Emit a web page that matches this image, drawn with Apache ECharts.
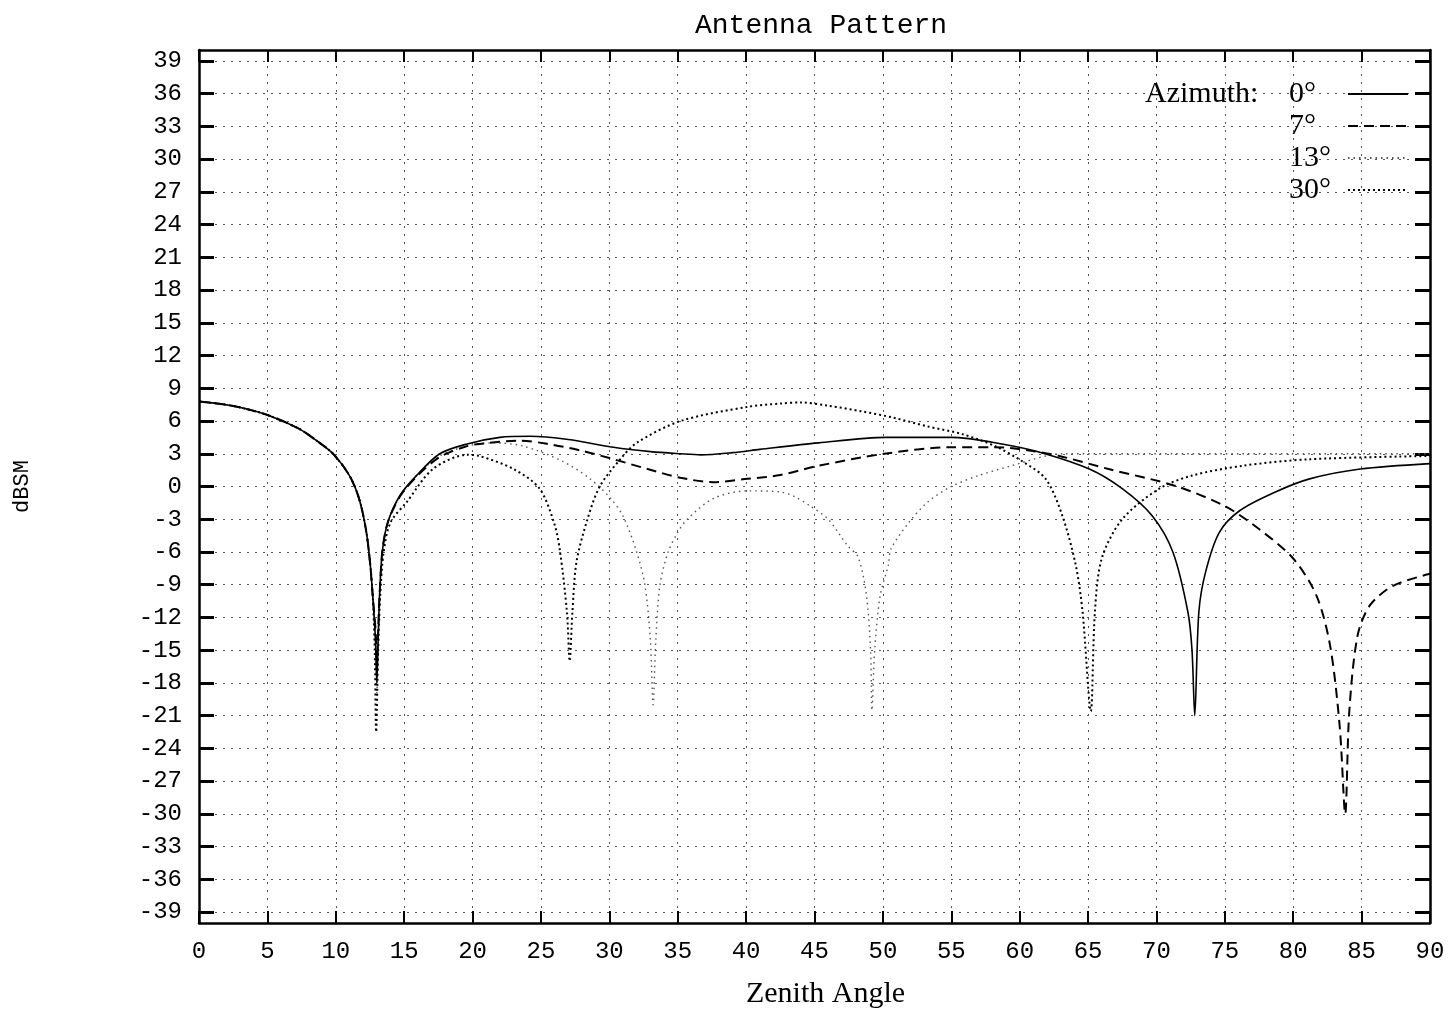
<!DOCTYPE html>
<html>
<head>
<meta charset="utf-8">
<script src="https://cdn.jsdelivr.net/npm/echarts@6/dist/echarts.min.js"></script>
<style>
html,body{margin:0;padding:0;background:#fff;}
#chart{width:1448px;height:1014px;}
</style>
</head>
<body>
<div id="chart"></div>
<script>
// ---- data ----
var xTicks = [0,5,10,15,20,25,30,35,40,45,50,55,60,65,70,75,80,85,90];
var yTicks = [-39,-36,-33,-30,-27,-24,-21,-18,-15,-12,-9,-6,-3,0,3,6,9,12,15,18,21,24,27,30,33,36,39];
var seriesNames = ['0\u00B0','7\u00B0','13\u00B0','30\u00B0'];

var az0 = [[0,7.8],[2.4,7.4],[4.9,6.6],[7.3,5.3],[8.6,4.2],[9.8,3.0],[11,1.0],[11.7,-1.1],[12.2,-3.9],[12.5,-6.9],[12.7,-10],[12.9,-14],[13.0,-18],[13.1,-14],[13.2,-10],[13.4,-6],[13.8,-3.3],[14.7,-0.8],[15.9,1.0],[17.6,3.0],[19.6,3.9],[22,4.5],[24.2,4.6],[27,4.3],[30.3,3.6],[33,3.2],[35.2,3.0],[36.7,2.9],[39,3.1],[41,3.4],[45.3,4.0],[50.2,4.5],[55,4.5],[58.7,3.9],[61.6,3.1],[65.1,1.6],[67.5,-0.2],[69.7,-2.7],[71.2,-6],[72.3,-11.5],[72.6,-15],[72.8,-21],[73.1,-11.5],[73.6,-7.8],[74.6,-4.2],[76.1,-2.2],[78.7,-0.5],[81.2,0.7],[84.9,1.6],[90,2.1]];

var az7 = [[0,7.8],[2.4,7.4],[4.9,6.6],[7.3,5.3],[8.6,4.2],[9.8,3.0],[11,1.0],[11.7,-1.1],[12.2,-3.9],[12.5,-6.9],[12.7,-10],[12.9,-13],[13.0,-16],[13.1,-13],[13.2,-10],[13.4,-6],[13.8,-3.3],[14.7,-0.9],[15.9,0.9],[17.6,2.7],[19.6,3.7],[20.5,3.9],[23.5,4.2],[25.5,3.9],[27.9,3.3],[30.3,2.5],[32.8,1.6],[35.2,0.8],[37.6,0.4],[40.1,0.7],[42.5,1.05],[45.3,1.9],[50.1,3.0],[55,3.6],[58.2,3.6],[60.7,3.3],[62.9,2.8],[66.5,1.6],[71.4,0.05],[75,-1.8],[77.5,-3.9],[80,-6.6],[81.7,-10],[82.7,-14.6],[83.4,-22],[83.8,-30],[84.1,-20.6],[84.7,-13.7],[85.6,-10.9],[87.3,-9.1],[90,-8.0]];

var az13 = [[0,7.8],[2.4,7.4],[4.9,6.6],[7.3,5.3],[8.6,4.2],[9.8,3.0],[11,1.0],[11.7,-1.1],[12.2,-3.9],[12.5,-6.9],[12.7,-10],[12.9,-14],[13.0,-19],[13.1,-14],[13.2,-10],[13.4,-6],[13.8,-3.3],[14.7,-0.9],[15.9,1.0],[17.6,2.8],[19.6,3.7],[21.5,4.0],[23.7,3.7],[26.6,2.3],[28.6,0.7],[30.1,-1.1],[31,-2.7],[32,-6],[32.6,-9],[33.0,-14],[33.2,-20],[33.4,-14],[33.7,-9],[34.3,-6],[35,-4.2],[35.7,-3.0],[37.6,-1.1],[40.1,-0.4],[42.5,-0.5],[43.5,-0.9],[44.7,-1.8],[46,-3],[47.4,-5.4],[48.2,-6.5],[48.8,-10],[49.1,-15],[49.2,-20.5],[49.4,-15],[49.8,-10],[50.4,-7.2],[50.6,-5.7],[51.9,-3.3],[53.3,-1.4],[55,0],[57,1.0],[59.4,1.9],[61.9,2.8],[63.1,3.0],[70,3.0],[80,3.0],[90,3.0]];

var az30 = [[0,7.8],[2.4,7.4],[4.9,6.6],[7.3,5.3],[8.6,4.2],[9.8,3.0],[11,1.0],[11.7,-1.1],[12.2,-3.9],[12.5,-6.9],[12.7,-10],[12.85,-15],[12.95,-22.5],[13.1,-15],[13.25,-10],[13.5,-6],[14,-3.3],[15.2,-1.4],[17.1,1.6],[19.6,2.9],[20.5,2.8],[23,1.6],[24.9,-0.2],[26.0,-3.5],[26.4,-6],[26.9,-11.5],[27.1,-16],[27.3,-11.5],[27.6,-6.9],[28.4,-3],[29.3,0],[30.8,2.5],[32,4],[35.2,6],[40.1,7.3],[42.5,7.6],[44,7.7],[46,7.4],[48.4,6.9],[50.8,6.3],[53.3,5.5],[55.8,4.8],[58.2,3.7],[60.2,2.3],[61.9,0.7],[63.1,-2.6],[64.1,-7.2],[64.6,-11.5],[65.2,-20.6],[65.5,-11.5],[66,-6.6],[67.5,-3],[70.2,-0.2],[72.6,1.0],[76.3,1.9],[81.2,2.5],[90,2.8]];

// ---- chart ----
var chart = echarts.init(document.getElementById('chart'), null, {renderer:'canvas'});
var mono = 'Liberation Mono';
var serif = 'Liberation Serif';

function axisLineStyle() {
  return {show:true, onZero:false, lineStyle:{color:'#000', width:2.5}};
}

var option = {
  animation:false,
  backgroundColor:'#fff',
  title:[
    {text:'Antenna Pattern', left:690, top:7,
     textStyle:{fontFamily:mono, fontSize:28, fontWeight:'normal', color:'#000'}},
    {text:'Azimuth:', left:1140, top:74,
     textStyle:{fontFamily:serif, fontSize:30, fontWeight:'normal', color:'#000'}}
  ],
  legend:{
    orient:'vertical', left:1284, top:74, align:'right',
    itemWidth:60, itemHeight:14, itemGap:2,
    itemStyle:{opacity:0},
    data:seriesNames,
    formatter:function(name){ return '{a|' + name + '}'; },
    textStyle:{
      fontFamily:serif, fontSize:30, color:'#000', lineHeight:30,
      rich:{a:{fontFamily:serif, fontSize:30, color:'#000', width:54, align:'left', lineHeight:30}}
    }
  },
  grid:{left:199, right:18, top:50, bottom:89, show:false},
  xAxis:[
    {
      type:'value', min:0, max:90, interval:5, position:'bottom',
      axisLine:axisLineStyle(),
      axisTick:{show:true, inside:true, length:12, lineStyle:{color:'#000', width:2}},
      name:'Zenith Angle', nameLocation:'middle', nameGap:56,
      nameTextStyle:{fontFamily:serif, fontSize:30, color:'#000', padding:[0,0,0,22]},
      axisLabel:{fontFamily:mono, fontSize:24, color:'#000', margin:17},
      splitLine:{show:true, lineStyle:{color:'#555', width:1, type:[2,6]}}
    },
    {
      type:'value', min:0, max:90, interval:5, position:'top',
      axisLine:axisLineStyle(),
      axisTick:{show:true, inside:true, length:12, lineStyle:{color:'#000', width:2}},
      axisLabel:{show:false}, splitLine:{show:false}
    }
  ],
  yAxis:[
    {
      type:'value', min:-40, max:40, position:'left',
      axisLine:axisLineStyle(),
      name:'dBSM', nameLocation:'middle', nameGap:166,
      nameTextStyle:{fontFamily:mono, fontSize:22, color:'#000'},
      axisTick:{show:true, inside:true, length:15, customValues:yTicks, lineStyle:{color:'#000', width:3}},
      axisLabel:{fontFamily:mono, fontSize:24, color:'#000', margin:17, customValues:yTicks},
      splitLine:{show:true, lineStyle:{color:'#555', width:1, type:[2,6]}}
    },
    {
      type:'value', min:-40, max:40, position:'right',
      axisLine:axisLineStyle(),
      axisTick:{show:true, inside:true, length:15, customValues:yTicks, lineStyle:{color:'#000', width:3}},
      axisLabel:{show:false}, splitLine:{show:false}
    }
  ],
  series:[
    {name:seriesNames[0], type:'line', data:az0, symbol:'none', smooth:0.3,
     lineStyle:{color:'#000', width:1.6, type:'solid'}, itemStyle:{color:'#000'}, z:5},
    {name:seriesNames[1], type:'line', data:az7, symbol:'none', smooth:0.3,
     lineStyle:{color:'#000', width:2, type:[10,6]}, itemStyle:{color:'#000'}, z:4},
    {name:seriesNames[2], type:'line', data:az13, symbol:'none', smooth:0.3,
     lineStyle:{color:'#555', width:1.4, type:[1.5,4]}, itemStyle:{color:'#555'}, z:3},
    {name:seriesNames[3], type:'line', data:az30, symbol:'none', smooth:0.3,
     lineStyle:{color:'#000', width:2, type:[2,3]}, itemStyle:{color:'#000'}, z:4}
  ]
};
chart.setOption(option);
</script>
</body>
</html>
